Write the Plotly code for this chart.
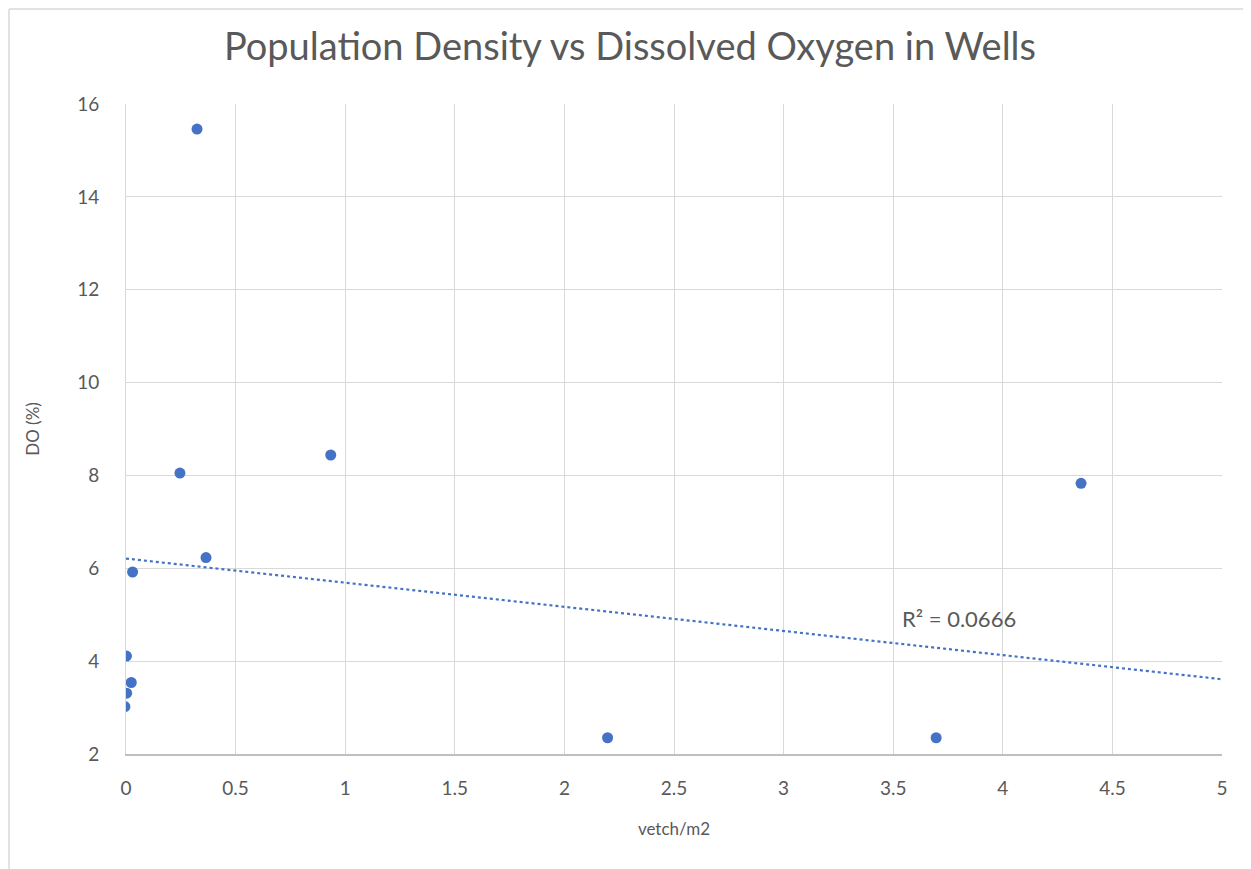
import plotly.graph_objects as go

vetch = [0.324, 0.934, 0.246, 0.365, 0.030, 0.002, 0.024, 0.003, -0.005, 2.197, 3.696, 4.357]
do_pct = [15.46, 8.44, 8.05, 6.23, 5.92, 4.11, 3.54, 3.31, 3.02, 2.35, 2.35, 7.83]
trend_x = [0, 5]
trend_y = [6.21, 3.61]
x_ticks = [0, 0.5, 1, 1.5, 2, 2.5, 3, 3.5, 4, 4.5, 5]
x_tick_labels = ["0", "0.5", "1", "1.5", "2", "2.5", "3", "3.5", "4", "4.5", "5"]
y_ticks = [2, 4, 6, 8, 10, 12, 14, 16]
r2_label = "R² = 0.0666"

FONT = "Lato, 'Open Sans', sans-serif"
GREY = "#595959"
BLUE = "#4472C4"

# page body has an 8px margin; compensate so the plot sits where the reference does
OFF = 8
W, H = 1251 - OFF, 869 - OFF
L, R, T, B = 126 - OFF, 29, 104 - OFF, 115
PW, PH = W - L - R, H - T - B

fig = go.Figure()
fig.add_trace(go.Scatter(
    x=trend_x, y=trend_y, mode="lines",
    line=dict(color=BLUE, width=2.2, dash="dot"),
    hoverinfo="skip", showlegend=False,
))
fig.add_trace(go.Scatter(
    x=vetch, y=do_pct, mode="markers",
    marker=dict(color=BLUE, size=11),
    showlegend=False,
))

fig.add_annotation(
    x=3.80, y=4.92, text=r2_label, showarrow=False,
    font=dict(family=FONT, size=22, color=GREY),
)

# outer chart border (left and top edges visible)
bx = (9 - 126) / PW
by = (754 - 9) / PH
fig.add_shape(type="line", xref="paper", yref="paper",
              x0=bx, x1=bx, y0=by, y1=-1,
              line=dict(color="#d9d9d9", width=1.5))
fig.add_shape(type="line", xref="paper", yref="paper",
              x0=bx, x1=2, y0=by, y1=by,
              line=dict(color="#d9d9d9", width=1.5))

fig.update_layout(
    width=W, height=H,
    margin=dict(l=L, r=R, t=T, b=B),
    paper_bgcolor="white", plot_bgcolor="white",
    title=dict(text="Population Density vs Dissolved Oxygen in Wells",
               x=(630 - 126) / PW, xref="paper", xanchor="center",
               y=1 - (47 - OFF) / H, yanchor="middle",
               font=dict(family=FONT, size=38, color=GREY)),
    font=dict(family=FONT, color=GREY),
    xaxis=dict(range=[0, 5], tickvals=x_ticks, ticktext=x_tick_labels,
               showgrid=True, gridcolor="#d9d9d9", gridwidth=1,
               showline=True, linecolor="#bfbfbf", linewidth=1.5,
               zeroline=False, ticks="", ticklen=0, ticklabelstandoff=16,
               tickfont=dict(family=FONT, size=19, color=GREY),
               title=dict(text="vetch/m2", font=dict(family=FONT, size=17, color=GREY), standoff=26)),
    yaxis=dict(range=[2, 16], tickvals=y_ticks,
               showgrid=True, gridcolor="#d9d9d9", gridwidth=1,
               showline=True, linecolor="#d9d9d9", linewidth=1,
               zeroline=False, ticks="", ticklen=0, ticklabelstandoff=22,
               tickfont=dict(family=FONT, size=19, color=GREY),
               title=dict(text="DO (%)", font=dict(family=FONT, size=17, color=GREY), standoff=33)),
)

fig.write_html("out.html")
